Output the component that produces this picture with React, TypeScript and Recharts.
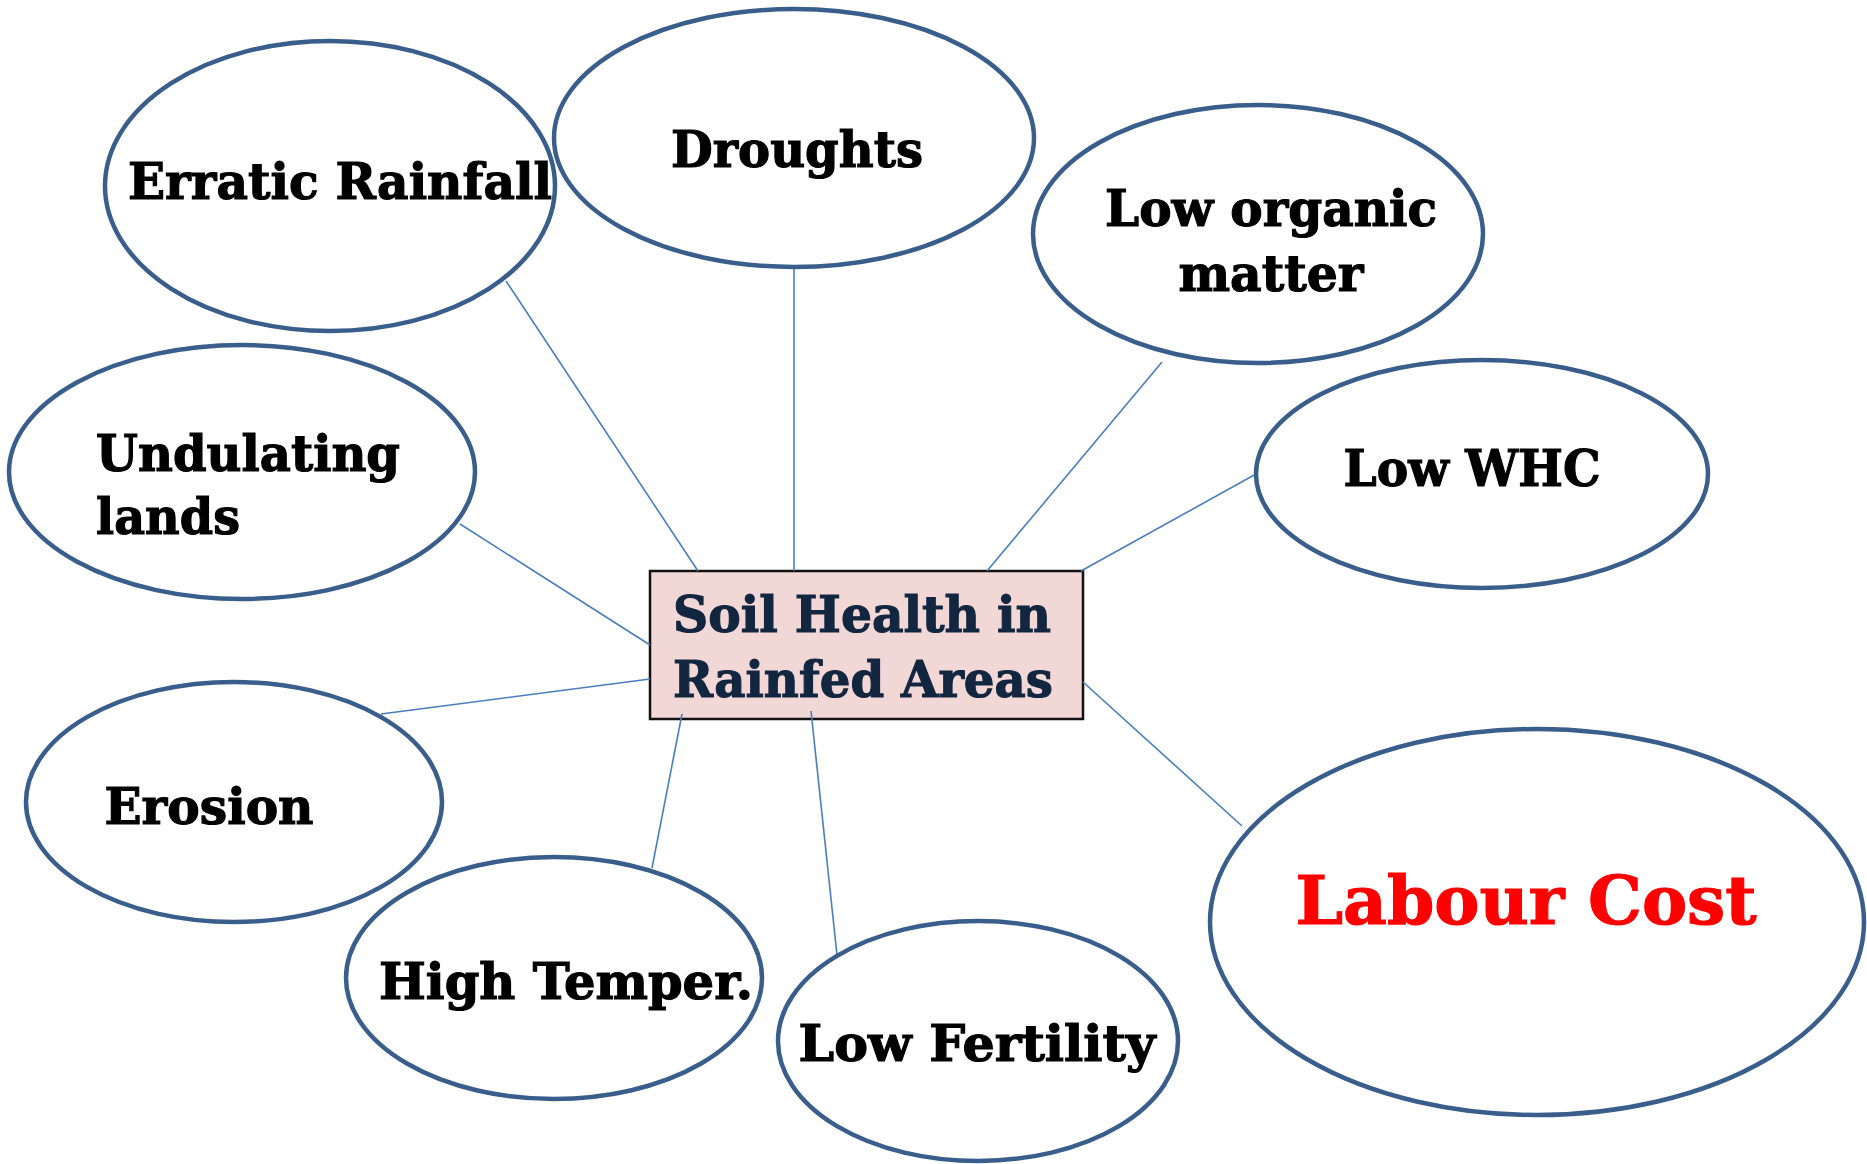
import { ScatterChart, Scatter, XAxis, YAxis, ReferenceLine, ReferenceArea } from 'recharts';

const W = 1867;
const H = 1164;

// factor nodes around the hub
const NODE_LINES = [
  ['Erratic Rainfall'],
  ['Droughts'],
  ['Low organic', 'matter'],
  ['Undulating', 'lands'],
  ['Low WHC'],
  ['Erosion'],
  ['High Temper.'],
  ['Low Fertility'],
  ['Labour Cost'],
];
const NODE_X = [330, 794, 1258, 242, 1482, 234, 554, 978, 1537];
const NODE_Y = [186, 138, 234, 472, 474, 802, 978, 1041, 922];
const NODE_RX = [225, 240, 225, 233, 226, 208, 208, 200, 327];
const NODE_RY = [145, 129, 129, 127, 114, 120, 121, 120, 193];
const LABEL_X = [340, 797, 1271, 96, 1472, 209, 566, 977, 1526];
const LABEL_Y = [199, 167, 226, 471, 486, 824, 999, 1061, 924];
const LABEL_W = [[424], [252], [332, 185], [304, 144], [257], [209], [374], [357], [461]];
const LINE_GAP = [0, 0, 65, 63, 0, 0, 0, 0, 0];

// connector end points: node side and hub side
const EDGE_FROM = [[506, 281], [794, 268], [1162, 362], [1256, 474], [460, 524], [381, 714], [652, 868], [837, 955], [1242, 826]];
const EDGE_TO = [[698, 571], [794, 571], [987, 571], [1081, 571], [650, 645], [650, 679], [682, 714], [811, 711], [1083, 682]];

const HUB_LINES = ['Soil Health in', 'Rainfed Areas'];
const HUB_BOX = { x1: 650, x2: 1083, y1: 571, y2: 719 };

const nodes = NODE_LINES.map((lines, i) => ({
  x: NODE_X[i],
  y: NODE_Y[i],
  rx: NODE_RX[i],
  ry: NODE_RY[i],
  lines,
  lx: LABEL_X[i] - NODE_X[i],
  ly: LABEL_Y[i] - NODE_Y[i],
  widths: LABEL_W[i],
  gap: LINE_GAP[i],
  left: i === 3,
  big: i === 8,
}));

const hub = [{ x: 866, y: 632, lines: HUB_LINES, widths: [378, 380] }];

const FONT = '"DejaVu Serif", serif';

const NodeShape = (props: any) => {
  const { cx, cy, payload } = props;
  const color = payload.big ? '#ff0000' : '#000';
  return (
    <g>
      <ellipse cx={cx} cy={cy} rx={payload.rx} ry={payload.ry} fill="none" stroke="#3a5e8c" strokeWidth={4.5} />
      {payload.lines.map((t: string, k: number) => (
        <text
          key={t}
          x={payload.left ? cx + payload.lx : cx + payload.lx - payload.widths[k] / 2}
          y={cy + payload.ly + k * payload.gap}
          textLength={payload.widths[k]}
          lengthAdjust="spacingAndGlyphs"
          fontFamily={FONT}
          fontWeight="bold"
          fontSize={payload.big ? 68 : 50}
          fill={color}
          stroke={color}
          strokeWidth={1.2}
        >
          {t}
        </text>
      ))}
    </g>
  );
};

const HubShape = (props: any) => {
  const { cy, payload } = props;
  return (
    <g>
      {payload.lines.map((t: string, k: number) => (
        <text
          key={t}
          x={673}
          y={cy + k * 65}
          textLength={payload.widths[k]}
          lengthAdjust="spacingAndGlyphs"
          fontFamily={FONT}
          fontWeight="bold"
          fontSize={51}
          fill="#12263f"
          stroke="#12263f"
          strokeWidth={1.2}
        >
          {t}
        </text>
      ))}
    </g>
  );
};

export default function App() {
  return (
    <div style={{ position: 'absolute', left: 0, top: 0, width: W, height: H, background: '#fff' }}>
      <ScatterChart width={W} height={H} margin={{ top: 0, right: 0, bottom: 0, left: 0 }}>
        <XAxis type="number" dataKey="x" domain={[0, W]} hide />
        <YAxis type="number" dataKey="y" domain={[0, H]} reversed hide />
        {EDGE_FROM.map((p, i) => (
          <ReferenceLine
            key={`edge-${i}`}
            segment={[{ x: p[0], y: p[1] }, { x: EDGE_TO[i][0], y: EDGE_TO[i][1] }]}
            stroke="#4a7ebb"
            strokeWidth={1.6}
            ifOverflow="visible"
          />
        ))}
        <ReferenceArea
          x1={HUB_BOX.x1}
          x2={HUB_BOX.x2}
          y1={HUB_BOX.y1}
          y2={HUB_BOX.y2}
          fill="#f2d7d7"
          fillOpacity={1}
          stroke="#111"
          strokeWidth={2.5}
          ifOverflow="visible"
        />
        <Scatter data={nodes} shape={NodeShape} isAnimationActive={false} />
        <Scatter data={hub} shape={HubShape} isAnimationActive={false} />
      </ScatterChart>
    </div>
  );
}
